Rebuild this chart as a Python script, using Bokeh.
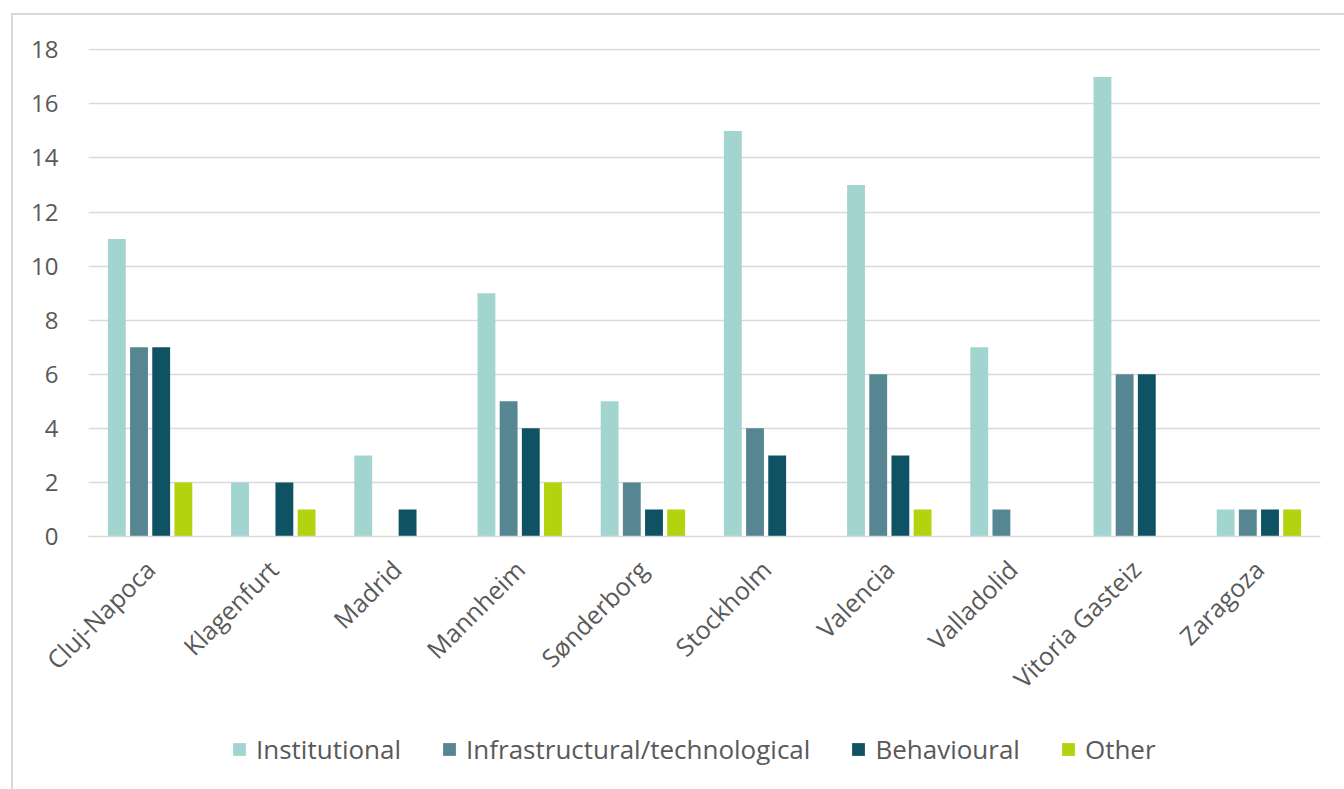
import math
from bokeh.plotting import figure
from bokeh.layouts import column
from bokeh.models import ColumnDataSource, FactorRange, Legend, LegendItem, SingleIntervalTicker, Range1d
from bokeh.transform import dodge
from bokeh.embed import file_html
from bokeh.resources import INLINE

cities = ["Cluj-Napoca", "Klagenfurt", "Madrid", "Mannheim", "Sønderborg",
          "Stockholm", "Valencia", "Valladolid", "Vitoria Gasteiz", "Zaragoza"]
institutional = [11, 2, 3, 9, 5, 15, 13, 7, 17, 1]
infrastructural = [7, 0, 0, 5, 2, 4, 6, 1, 6, 1]
behavioural = [7, 2, 1, 4, 1, 3, 3, 0, 6, 1]
other = [2, 1, 0, 2, 1, 0, 1, 0, 0, 1]

series_names = ["Institutional", "Infrastructural/technological", "Behavioural", "Other"]
series_keys = ["inst", "infra", "behav", "other"]
colors = ["#a2d5d0", "#568692", "#0f5263", "#b3d30f"]

source = ColumnDataSource(dict(city=cities, inst=institutional, infra=infrastructural,
                               behav=behavioural, other=other))

FONT = "Open Sans"
TXT = "#595959"
GRID = "#d9d9d9"

p = figure(width=1331, height=700, x_range=FactorRange(*cities, range_padding=0),
           y_range=Range1d(0, 18.05), output_backend="svg", toolbar_location=None,
           min_border_left=75, min_border_right=24, min_border_top=33,
           min_border_bottom=179)
p.outline_line_color = None
p.background_fill_color = "white"
p.border_fill_color = "white"

offsets = [-0.27, -0.09, 0.09, 0.27]
for key, col, off in zip(series_keys, colors, offsets):
    p.vbar(x=dodge("city", off, range=p.x_range), top=key, width=0.145,
           source=source, fill_color=col, line_color=None)

p.xgrid.grid_line_color = None
p.ygrid.grid_line_color = GRID
p.ygrid.grid_line_width = 1.5
p.yaxis.ticker = SingleIntervalTicker(interval=2)

p.yaxis.axis_line_color = None
p.yaxis.major_tick_line_color = None
p.yaxis.minor_tick_line_color = None
p.yaxis.major_label_standoff = 24
p.yaxis.major_label_text_font = FONT
p.yaxis.major_label_text_font_size = "24px"
p.yaxis.major_label_text_color = TXT

p.xaxis.axis_line_color = GRID
p.xaxis.axis_line_width = 1.5
p.xaxis.major_tick_line_color = None
p.xaxis.minor_tick_line_color = None
p.xaxis.major_label_orientation = math.pi / 4
p.xaxis.major_label_standoff = 22
p.xaxis.major_label_text_font = FONT
p.xaxis.major_label_text_font_size = "25px"
p.xaxis.major_label_text_color = TXT

# legend panel (its bars lie outside its visible y range; only the legend shows)
lf = figure(width=1331, height=74, x_range=FactorRange(*cities, range_padding=0),
            y_range=Range1d(100, 101),
            output_backend="svg", toolbar_location=None, x_axis_type=None, y_axis_type=None,
            min_border=0, min_border_left=0, min_border_right=0, min_border_top=0,
            min_border_bottom=0)
lf.outline_line_color = None
lf.xgrid.grid_line_color = None
lf.ygrid.grid_line_color = None
lf.border_fill_color = "white"
items = []
for name, key, col, off in zip(series_names, series_keys, colors, offsets):
    r = lf.vbar(x=dodge("city", off, range=lf.x_range), top=key, width=0.145,
                source=source, fill_color=col, line_color=None)
    items.append(LegendItem(label=name, renderers=[r]))

legend = Legend(items=items, orientation="horizontal", location=(143, 22),
                glyph_width=16, glyph_height=16, label_standoff=9, spacing=40,
                padding=0, margin=0, border_line_color=None, background_fill_alpha=0,
                label_text_font=FONT, label_text_font_size="26px", label_text_color=TXT)
lf.add_layout(legend, "center")

layout = column(p, lf, spacing=0)
layout.margin = (13, 0, 0, 11)
layout.styles = {"border-top": "2px solid #d9d9d9", "border-left": "2px solid #d9d9d9"}

open("out.html", "w").write(file_html(layout, INLINE))
